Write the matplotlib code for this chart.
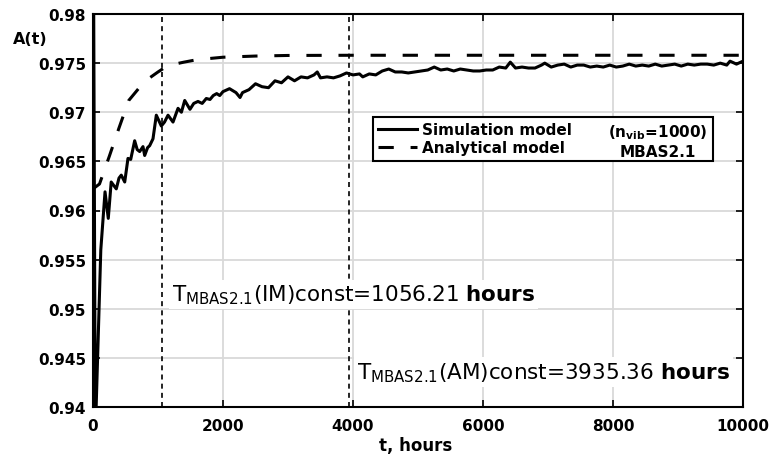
import matplotlib
matplotlib.use('Agg')
import matplotlib.pyplot as plt
from matplotlib.lines import Line2D

# ---------------- data ----------------
sim_t = [0, 35, 120, 185, 235, 280, 358, 400, 435, 488, 538, 580, 641, 680, 718, 769,
         795, 840, 872, 923, 974, 1051, 1100, 1154, 1231, 1308, 1360, 1411, 1492, 1550,
         1615, 1680, 1743, 1800, 1850, 1903, 1950,
         2000, 2100, 2200, 2262, 2300, 2400, 2500, 2600, 2700, 2800, 2900, 3000, 3100,
         3200, 3300, 3400, 3450, 3500, 3600, 3700, 3800, 3900, 4000, 4100, 4150, 4250,
         4350, 4450, 4550, 4650, 4750, 4850, 4950, 5050, 5150, 5250, 5350, 5450, 5550,
         5650, 5750, 5850, 5950, 6050, 6150, 6250, 6350, 6420, 6500, 6600, 6700, 6800,
         6900, 6950, 7050, 7150, 7250, 7350, 7450, 7550, 7650, 7750, 7850, 7950, 8050,
         8150, 8250, 8350, 8450, 8550, 8650, 8750, 8850, 8950, 9050, 9150, 9250, 9350,
         9450, 9550, 9650, 9750, 9800, 9900, 10000]
sim_a = [1.0, 0.937, 0.9560, 0.9619, 0.9592, 0.9629, 0.9622, 0.9633, 0.9636, 0.9629,
         0.9653, 0.9652, 0.9671, 0.9662, 0.9660, 0.9665, 0.9656, 0.9664, 0.9666, 0.9673,
         0.9697, 0.9686, 0.9690, 0.9697, 0.9690, 0.9704, 0.9700, 0.9712, 0.9703, 0.9709,
         0.9711, 0.9709, 0.9714, 0.9713, 0.9717, 0.9719, 0.9717,
         0.9721, 0.9724, 0.9720, 0.9715, 0.9720, 0.9723, 0.9729, 0.9726, 0.9725, 0.9732,
         0.9730, 0.9736, 0.9732, 0.9736, 0.9735, 0.9738, 0.9741, 0.9735, 0.9736, 0.9735,
         0.9737, 0.9740, 0.9738, 0.9739, 0.9736, 0.9739, 0.9738, 0.9742, 0.9744, 0.9741,
         0.9741, 0.9740, 0.9741, 0.9742, 0.9743, 0.9746, 0.9743, 0.9744, 0.9742, 0.9744,
         0.9743, 0.9742, 0.9742, 0.9743, 0.9743, 0.9746, 0.9745, 0.9751, 0.9745, 0.9746,
         0.9745, 0.9745, 0.9748, 0.9750, 0.9746, 0.9748, 0.9749, 0.9746, 0.9748, 0.9748,
         0.9746, 0.9747, 0.9746, 0.9748, 0.9746, 0.9747, 0.9749, 0.9747, 0.9748, 0.9747,
         0.9749, 0.9747, 0.9748, 0.9749, 0.9747, 0.9749, 0.9748, 0.9749, 0.9749, 0.9748,
         0.9750, 0.9748, 0.9752, 0.9749, 0.9752]

ana_t = [0, 100, 250, 400, 550, 700, 850, 1000, 1150, 1400, 1600, 2000, 2500, 3000, 4000, 10000]
ana_a = [0.9622, 0.9627, 0.9655, 0.9684, 0.9712, 0.9724, 0.9734, 0.9741, 0.97475, 0.9751,
         0.97535, 0.9756, 0.97572, 0.97578, 0.9758, 0.9758]

t_const = [1056.21, 3935.36]
const_labels = ['IM', 'AM']

xticks = [0, 2000, 4000, 6000, 8000, 10000]
xtick_labels = ['0', '2000', '4000', '6000', '8000', '10000']
yticks = [0.94, 0.945, 0.95, 0.955, 0.96, 0.965, 0.97, 0.975, 0.98]
ytick_labels = ['0.94', '0.945', '0.95', '0.955', '0.96', '0.965', '0.97', '0.975', '0.98']

legend_labels = ['Simulation model', 'Analytical model']

# ---------------- figure ----------------
plt.rcParams['font.family'] = ['DejaVu Sans']
plt.rcParams['mathtext.fontset'] = 'dejavusans'

W, H = 771, 456
fig = plt.figure(figsize=(W / 100, H / 100), dpi=100)
ax = fig.add_axes([93 / W, 1 - 408 / H, 650 / W, 393 / H])

ax.plot(sim_t, sim_a, color='black', lw=2.2, zorder=3, solid_joinstyle='round')
ax.plot(ana_t, ana_a, color='black', lw=2.2, dashes=(5, 5.5), zorder=3)
for tv in t_const:
    ax.axvline(tv, color='black', lw=1.2, dashes=(3, 2.5), zorder=2)

ax.set_xlim(0, 10000)
ax.set_ylim(0.94, 0.98)
ax.set_xticks(xticks)
ax.set_xticklabels(xtick_labels)
ax.set_yticks(yticks)
ax.set_yticklabels(ytick_labels)
ax.grid(True, color='#d9d9d9', lw=1.3)
ax.set_axisbelow(True)
ax.tick_params(direction='in', length=5, width=1.2, top=True, right=True,
               labelsize=11, colors='black')
ax.tick_params(axis='x', pad=8)
ax.tick_params(axis='y', pad=5)
for lab in ax.get_xticklabels() + ax.get_yticklabels():
    lab.set_fontweight('bold')
for sp in ax.spines.values():
    sp.set_linewidth(1.5)
    sp.set_color('black')

# annotations
bb = dict(facecolor='white', edgecolor='none', pad=2)
ax.text(1215, 0.95086,
        r'T$_{\mathrm{MBAS2.1}}$(' + const_labels[0] + ')const=%.2f $\\mathbf{hours}$' % t_const[0],
        fontsize=15.5, ha='left', va='baseline', bbox=bb, zorder=4)
ax.text(4062, 0.94294,
        r'T$_{\mathrm{MBAS2.1}}$(' + const_labels[1] + ')const=%.2f $\\mathbf{hours}$' % t_const[1],
        fontsize=15.5, ha='left', va='baseline', bbox=bb, zorder=4)

# legend
handles = [Line2D([], [], color='black', lw=2.2),
           Line2D([], [], color='black', lw=2.2, dashes=(5, 5.5))]
leg = ax.legend(handles, legend_labels, loc='upper left',
                bbox_to_anchor=(0.431, 0.613, 0.523, 0.125), mode='expand',
                prop={'weight': 'bold', 'size': 11}, handlelength=2.5,
                handletextpad=0.35, labelspacing=0.2, borderpad=0.35,
                borderaxespad=0, fancybox=False, framealpha=1, edgecolor='black')
leg.get_frame().set_linewidth(1.5)
leg.set_zorder(5)
ax.text(0.869, 0.70, r'(n$_{\mathbf{vib}}$=1000)', transform=ax.transAxes,
        ha='center', va='center', fontsize=11, fontweight='bold', zorder=6)
ax.text(0.869, 0.649, 'MBAS2.1', transform=ax.transAxes, ha='center', va='center',
        fontsize=11, fontweight='bold', zorder=6)

# axis labels
fig.text(13 / W, 1 - 44 / H, 'A(t)', ha='left', va='baseline', fontsize=11.5, fontweight='bold')
fig.text(416 / W, 1 - 451 / H, 't, hours', ha='center', va='baseline', fontsize=12, fontweight='bold')

fig.savefig('out.png', dpi=100)
